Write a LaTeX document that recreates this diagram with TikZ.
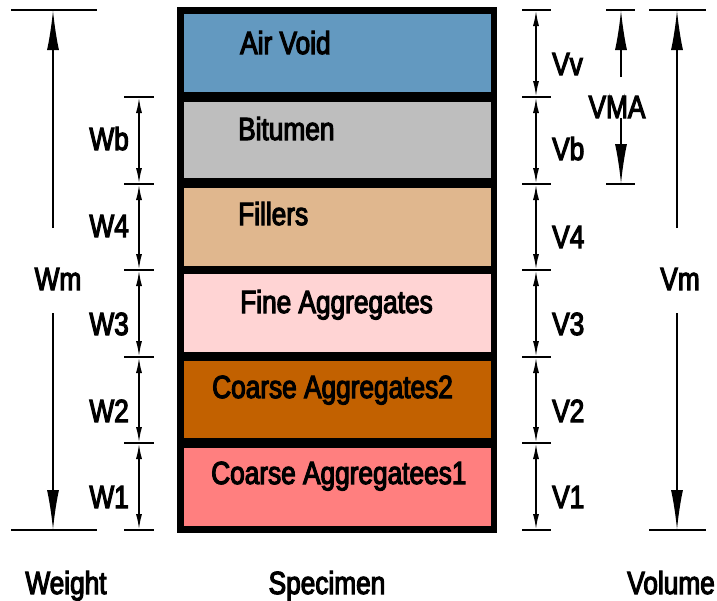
\documentclass[tikz,border=0pt]{standalone}
\usepackage{fontspec}
\setmainfont[FakeStretch=0.82,FakeBold=3.5]{Liberation Sans}
\usetikzlibrary{arrows.meta}
\definecolor{airc}{RGB}{99,153,192}
\definecolor{bitc}{RGB}{190,190,190}
\definecolor{filc}{RGB}{224,183,142}
\definecolor{finc}{RGB}{255,212,212}
\definecolor{c2c}{RGB}{194,97,0}
\definecolor{c1c}{RGB}{255,127,127}
\begin{document}
\begin{tikzpicture}[x=1pt,y=-1pt,
  lbl/.style={font=\fontsize{32}{36}\selectfont, inner sep=0pt},
  tickline/.style={line width=2pt},
  dimline/.style={line width=1.8pt, {Latex[length=16pt,width=6pt]}-{Latex[length=16pt,width=6pt]}},
  bigarrow/.style={line width=1.8pt, -{Latex[length=40pt,width=12pt]}},
  layer/.style={draw=none}]
\useasboundingbox (0,0) rectangle (717,600);
% specimen
\fill[black] (177,7) rectangle (497,533);
\fill[airc] (184,14) rectangle (491,92);
\fill[bitc] (184,102) rectangle (491,178);
\fill[filc] (184,188) rectangle (491,266);
\fill[finc] (184,274) rectangle (491,352);
\fill[c2c] (184,361) rectangle (491,438);
\fill[c1c] (184,448) rectangle (491,526);
\node[lbl, anchor=base west] (tair) at (240,54) {Air Void};
\node[lbl, anchor=base west] (tbit) at (238,140) {Bitumen};
\node[lbl, anchor=base west] (tfil) at (238,225) {Fillers};
\node[lbl, anchor=base west] (tfin) at (240,313) {Fine Aggregates};
\node[lbl, anchor=base west] (tc2) at (212,398) {Coarse Aggregates2};
\node[lbl, anchor=base west] (tc1) at (211,484) {Coarse Aggregatees1};
% levels
\foreach \n/\y in {A/10,B/97,C/184,D/270,E/357,F/443,G/530}{
  \coordinate (w\n) at (139,\y);
  \coordinate (v\n) at (536,\y);
}
% Wm
\draw[tickline] (11,10) -- (97,10);
\draw[tickline] (11,530) -- (97,530);
\coordinate (wmtop) at (53,10);
\coordinate (wmbot) at (53,530);
\coordinate (wmup) at (53,228);
\coordinate (wmdn) at (53,313);
\draw[bigarrow] (wmup) -- (wmtop);
\draw[bigarrow] (wmdn) -- (wmbot);
\node[lbl, anchor=base] (lwm) at (58,290) {Wm};
% small W dims
\foreach \y in {97,184,270,357,443,530}{
  \draw[tickline] (124,\y) -- (154,\y);
}
\draw[dimline] (wB) -- (wC);
\draw[dimline] (wC) -- (wD);
\draw[dimline] (wD) -- (wE);
\draw[dimline] (wE) -- (wF);
\draw[dimline] (wF) -- (wG);
\node[lbl, anchor=base east] (lwb) at (129,150) {Wb};
\node[lbl, anchor=base east] (lw4) at (129,237) {W4};
\node[lbl, anchor=base east] (lw3) at (129,335) {W3};
\node[lbl, anchor=base east] (lw2) at (129,422) {W2};
\node[lbl, anchor=base east] (lw1) at (129,508) {W1};
% small V dims
\foreach \y in {10,97,184,270,357,443,530}{
  \draw[tickline] (522,\y) -- (551,\y);
}
\draw[dimline] (vA) -- (vB);
\draw[dimline] (vB) -- (vC);
\draw[dimline] (vC) -- (vD);
\draw[dimline] (vD) -- (vE);
\draw[dimline] (vE) -- (vF);
\draw[dimline] (vF) -- (vG);
\node[lbl, anchor=base west] (lvv) at (552,75) {Vv};
\node[lbl, anchor=base west] (lvb) at (552,160) {Vb};
\node[lbl, anchor=base west] (lv4) at (552,248) {V4};
\node[lbl, anchor=base west] (lv3) at (552,335) {V3};
\node[lbl, anchor=base west] (lv2) at (552,422) {V2};
\node[lbl, anchor=base west] (lv1) at (552,508) {V1};
% VMA
\draw[tickline] (606,10) -- (635,10);
\draw[tickline] (606,184) -- (635,184);
\coordinate (vmatop) at (621,10);
\coordinate (vmabot) at (621,184);
\coordinate (vmaup) at (621,77);
\coordinate (vmadn) at (621,118);
\draw[bigarrow] (vmaup) -- (vmatop);
\draw[bigarrow] (vmadn) -- (vmabot);
\node[lbl, anchor=base] (lvma) at (617,118) {VMA};
% Vm
\draw[tickline] (649,10) -- (706,10);
\draw[tickline] (649,530) -- (706,530);
\coordinate (vmtop) at (677,10);
\coordinate (vmbot) at (677,530);
\coordinate (vmup) at (677,228);
\coordinate (vmdn) at (677,313);
\draw[bigarrow] (vmup) -- (vmtop);
\draw[bigarrow] (vmdn) -- (vmbot);
\node[lbl, anchor=base] (lvm) at (680,290) {Vm};
% bottom captions
\node[lbl, anchor=base] (lweight) at (66,594) {Weight};
\node[lbl, anchor=base] (lspec) at (327,594) {Specimen};
\node[lbl, anchor=base east] (lvol) at (715,594) {Volume};
\end{tikzpicture}
\end{document}
